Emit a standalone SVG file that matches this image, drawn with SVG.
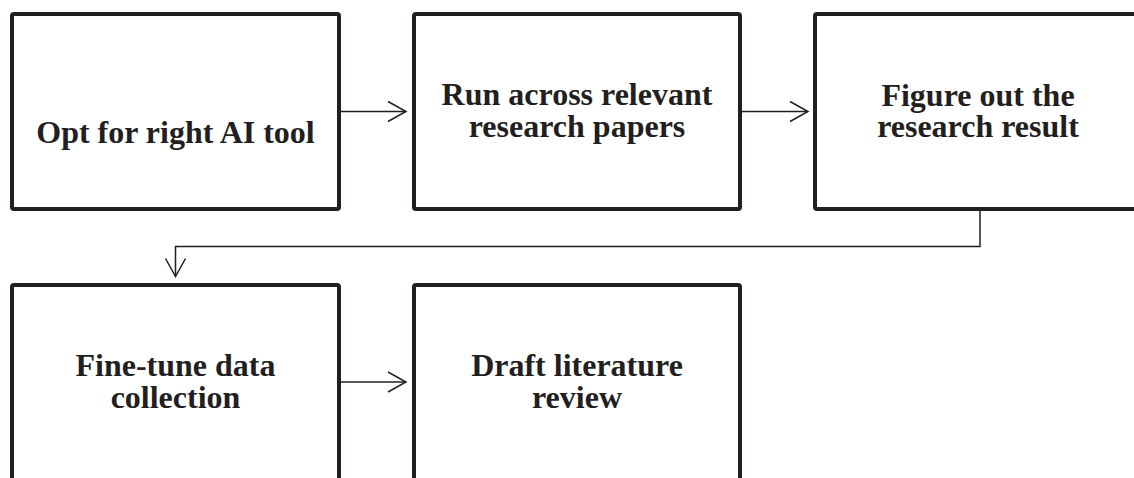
<svg xmlns="http://www.w3.org/2000/svg" width="1134" height="478" viewBox="0 0 1134 478">
  <style>
    .box { fill: #ffffff; stroke: #231f20; stroke-width: 4; }
    .lbl { font-family: "Liberation Serif", "Times New Roman", serif; font-weight: bold; font-size: 32px; fill: #231f20; text-anchor: middle; }
    .conn { fill: none; stroke: #231f20; stroke-width: 1.5; }
  </style>
  <defs>
    <marker id="arrow" markerUnits="userSpaceOnUse" markerWidth="22" markerHeight="24" viewBox="0 0 22 24" refX="19" refY="12" orient="auto">
      <path d="M1,2 L19,12 L1,22" fill="none" stroke="#231f20" stroke-width="1.5"/>
    </marker>
  </defs>
  <rect width="1134" height="478" fill="#ffffff"/>

  <g id="n1">
    <rect class="box" x="12" y="14" width="327" height="195" rx="2"/>
    <text class="lbl" x="175.5" y="143">Opt for right AI tool</text>
  </g>
  <g id="n2">
    <rect class="box" x="414" y="14" width="326" height="195" rx="2"/>
    <text class="lbl" x="577" y="105"><tspan x="577">Run across relevant</tspan><tspan x="577" dy="32">research papers</tspan></text>
  </g>
  <g id="n3">
    <rect class="box" x="815" y="14" width="330" height="195" rx="2"/>
    <text class="lbl" x="978" y="106"><tspan x="978">Figure out the</tspan><tspan x="978" dy="31">research result</tspan></text>
  </g>
  <g id="n4">
    <rect class="box" x="12" y="285" width="327" height="195" rx="2"/>
    <text class="lbl" x="175.5" y="376"><tspan x="175.5">Fine-tune data</tspan><tspan x="175.5" dy="32">collection</tspan></text>
  </g>
  <g id="n5">
    <rect class="box" x="414" y="285" width="326" height="195" rx="2"/>
    <text class="lbl" x="577" y="376"><tspan x="577">Draft literature</tspan><tspan x="577" dy="32">review</tspan></text>
  </g>

  <g id="connectors">
    <path class="conn" d="M341,111.5 H406" marker-end="url(#arrow)"/>
    <path class="conn" d="M742,111.5 H808" marker-end="url(#arrow)"/>
    <path class="conn" d="M980,211 V246.5 H175.5 V276.5" marker-end="url(#arrow)"/>
    <path class="conn" d="M341,382 H406" marker-end="url(#arrow)"/>
  </g>
</svg>
